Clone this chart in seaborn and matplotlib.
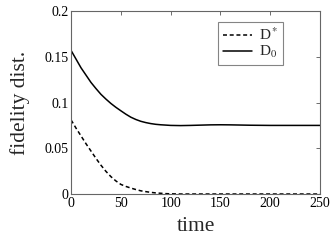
import numpy as np
import pandas as pd
import matplotlib
matplotlib.use("Agg")
import matplotlib.pyplot as plt
import seaborn as sns

# data
time_d0 = [0, 5, 10, 15, 20, 25, 30, 35, 40, 45, 50, 55, 60, 65, 70, 75, 80,
           85, 90, 100, 110, 120, 130, 140, 150, 160, 170, 180, 200, 220, 250]
d0_vals = [0.157, 0.1475, 0.138, 0.130, 0.122, 0.1153, 0.109, 0.1038, 0.099,
           0.0948, 0.091, 0.0873, 0.084, 0.0815, 0.0795, 0.0781, 0.0770,
           0.0762, 0.0757, 0.0750, 0.0748, 0.0750, 0.0753, 0.0756, 0.0757,
           0.0756, 0.0754, 0.0752, 0.0750, 0.0750, 0.0750]
time_ds = [0, 5, 10, 15, 20, 25, 30, 35, 40, 45, 50, 55, 60, 65, 70, 75, 80,
           85, 90, 95, 100, 110, 150, 200, 250]
ds_vals = [0.081, 0.072, 0.0635, 0.055, 0.047, 0.039, 0.0315, 0.0248, 0.019,
           0.0143, 0.0105, 0.0083, 0.0065, 0.0049, 0.0035, 0.0026, 0.0018,
           0.0012, 0.0008, 0.0004, 0.0002, 0.0, 0.0, 0.0, 0.0]
series_names = [r"D$^*$", r"D$_0$"]
x_ticks = [0, 50, 100, 150, 200, 250]
y_ticks = [0, 0.05, 0.1, 0.15, 0.2]
y_tick_labels = ["0", "0.05", "0.1", "0.15", "0.2"]

sns.set_style("white")
plt.rcParams["font.family"] = ["Liberation Serif", "DejaVu Serif"]
plt.rcParams["mathtext.fontset"] = "stix"

df = pd.concat([
    pd.DataFrame({"time": time_ds, "val": ds_vals, "series": series_names[0]}),
    pd.DataFrame({"time": time_d0, "val": d0_vals, "series": series_names[1]}),
], ignore_index=True)

fig = plt.figure(figsize=(3.32, 2.41), dpi=100)
ax = fig.add_axes([0.214, 0.195, 0.75, 0.759])

sns.lineplot(data=df, x="time", y="val", style="series",
             style_order=series_names,
             dashes={series_names[0]: (2.6, 1.8), series_names[1]: ""},
             color="black", linewidth=1.1, ax=ax, legend=True)

ax.set_xlim(0, 250)
ax.set_ylim(0, 0.2)
ax.set_xticks(x_ticks)
ax.set_xticklabels([str(t) for t in x_ticks])
ax.set_yticks(y_ticks)
ax.set_yticklabels(y_tick_labels)
ax.tick_params(direction="in", length=3, width=0.6, colors="#555555",
               labelcolor="black", labelsize=10, top=True, right=True,
               pad=2)
for s in ax.spines.values():
    s.set_visible(True)
    s.set_color("#666666")
    s.set_linewidth(0.8)

ax.set_xlabel("time", fontsize=15.5, labelpad=5)
ax.set_ylabel("fidelity dist.", fontsize=15.5, labelpad=10)

leg = ax.legend(loc="upper left", bbox_to_anchor=(0.59, 0.94),
                fontsize=11, frameon=True, fancybox=False,
                handlelength=1.9, handletextpad=0.5, borderpad=0.3,
                labelspacing=0.05, borderaxespad=0)
leg.get_frame().set_edgecolor("#666666")
leg.get_frame().set_linewidth(0.8)

fig.savefig("out.png", dpi=100)
